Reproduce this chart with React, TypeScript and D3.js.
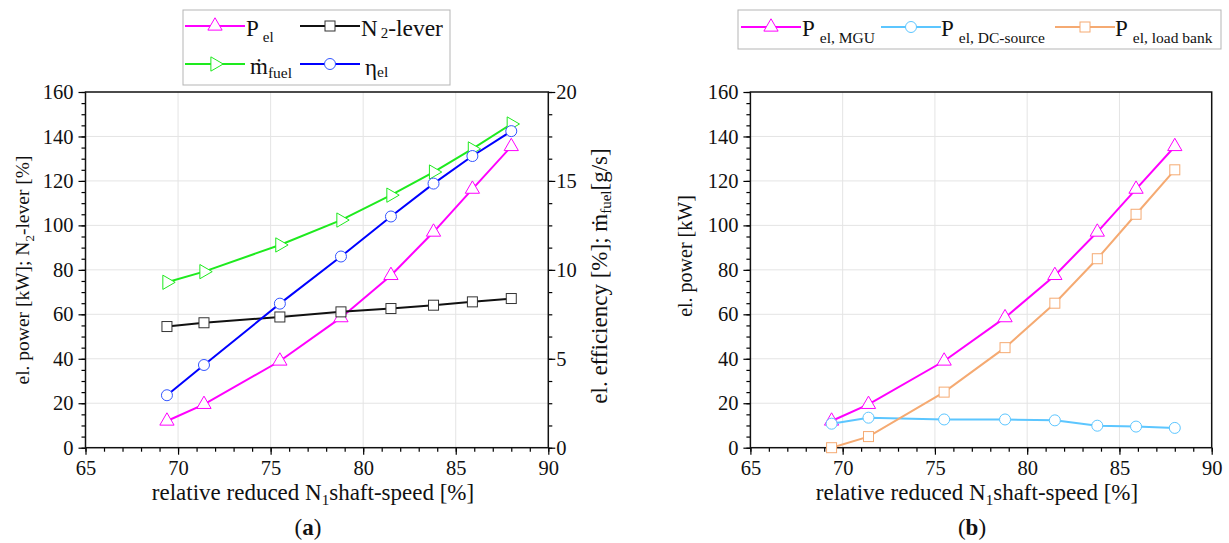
import React, { useEffect, useRef } from 'react'
import * as d3 from 'd3'

// relative reduced N1 shaft speed [%]
const speed = [69.4, 71.4, 75.5, 78.8, 81.5, 83.8, 85.9, 88.0]

// panel (a)
const powerEl = [12, 19.5, 39, 58.5, 77.5, 97, 116.3, 135.5]
const n2Lever = [54.5, 56.2, 58.8, 61.1, 62.6, 64.1, 65.6, 67.1]
const fuelFlow = [9.3, 9.9, 11.4, 12.8, 14.2, 15.5, 16.8, 18.2]
const effEl = [2.95, 4.65, 8.1, 10.75, 13.0, 14.85, 16.4, 17.8]

// panel (b)
const powerMgu = [12, 19.5, 39, 58.5, 77.5, 97, 116.3, 135.5]
const powerDc = [10.8, 13.5, 12.7, 12.7, 12.3, 9.9, 9.5, 8.9]
const powerLoad = [0, 5, 25, 45, 65, 85, 105, 125]

const xTicks = [65, 70, 75, 80, 85, 90]
const leftTicks = [0, 20, 40, 60, 80, 100, 120, 140, 160]
const rightTicks = [0, 5, 10, 15, 20]

const FONT = "'Liberation Serif', 'Times New Roman', serif"
const W = 1229
const H = 543
const yTop = 92
const yBot = 447.7

const drawFrame = (g, x, y, rightAxis) => {
  const [x0, x1] = x.range()
  // grid
  g.append('g')
    .selectAll('line')
    .data(xTicks.slice(1, -1))
    .enter()
    .append('line')
    .attr('x1', d => x(d))
    .attr('x2', d => x(d))
    .attr('y1', yTop)
    .attr('y2', yBot)
    .attr('stroke', '#e4e4e4')
    .attr('stroke-width', 1)
  g.append('g')
    .selectAll('line')
    .data(leftTicks.slice(1, -1))
    .enter()
    .append('line')
    .attr('x1', x0)
    .attr('x2', x1)
    .attr('y1', d => y(d))
    .attr('y2', d => y(d))
    .attr('stroke', '#e4e4e4')
    .attr('stroke-width', 1)

  const styleAxis = sel => {
    sel.select('.domain').remove()
    sel.selectAll('line').attr('stroke', '#000').attr('stroke-width', 1.2)
    sel.selectAll('text').attr('font-family', FONT).attr('font-size', 20.5).attr('fill', '#111')
  }

  // x axis
  const xMinor = d3.range(65, 90.01, 1)
  g.append('g')
    .attr('transform', `translate(0,${yBot})`)
    .call(d3.axisBottom(x).tickValues(xMinor).tickSize(4).tickFormat(() => ''))
    .call(styleAxis)
  g.append('g')
    .attr('transform', `translate(0,${yBot})`)
    .call(d3.axisBottom(x).tickValues(xTicks).tickSize(7).tickPadding(6).tickFormat(d3.format('d')))
    .call(styleAxis)

  // left axis
  const yMinor = d3.range(0, 160.01, 5)
  g.append('g')
    .attr('transform', `translate(${x0},0)`)
    .call(d3.axisLeft(y).tickValues(yMinor).tickSize(4).tickFormat(() => ''))
    .call(styleAxis)
  g.append('g')
    .attr('transform', `translate(${x0},0)`)
    .call(d3.axisLeft(y).tickValues(leftTicks).tickSize(7).tickPadding(5).tickFormat(d3.format('d')))
    .call(styleAxis)

  if (rightAxis) {
    g.append('g')
      .attr('transform', `translate(${x1},0)`)
      .call(d3.axisRight(rightAxis).tickValues(d3.range(0, 20.01, 1.25)).tickSize(4).tickFormat(() => ''))
      .call(styleAxis)
    g.append('g')
      .attr('transform', `translate(${x1},0)`)
      .call(d3.axisRight(rightAxis).tickValues(rightTicks).tickSize(7).tickPadding(1).tickFormat(d3.format('d')))
      .call(styleAxis)
  }

  g.append('rect')
    .attr('x', x0)
    .attr('y', yTop)
    .attr('width', x1 - x0)
    .attr('height', yBot - yTop)
    .attr('fill', 'none')
    .attr('stroke', '#111')
    .attr('stroke-width', 1.5)
}

const drawMarker = (g, kind, cx, cy, color, stroke) => {
  if (kind === 'circle') {
    g.append('circle').attr('cx', cx).attr('cy', cy).attr('r', 5.5)
      .attr('fill', '#fff').attr('stroke', stroke || color).attr('stroke-width', 1)
  } else if (kind === 'square') {
    g.append('rect').attr('x', cx - 5).attr('y', cy - 5).attr('width', 10).attr('height', 10)
      .attr('fill', '#fff').attr('stroke', stroke || color).attr('stroke-width', 1)
  } else {
    const rot = kind === 'triangleRight' ? 90 : 0
    g.append('path')
      .attr('d', d3.symbol(d3.symbolTriangle, 88)())
      .attr('transform', `translate(${cx},${cy}) rotate(${rot})`)
      .attr('fill', '#fff').attr('stroke', stroke || color).attr('stroke-width', 1)
  }
}

const drawSeries = (g, x, y, values, color, kind, stroke) => {
  const pts = speed.map((s, i) => [x(s), y(values[i])])
  g.append('path')
    .attr('d', d3.line()(pts))
    .attr('fill', 'none')
    .attr('stroke', color)
    .attr('stroke-width', 2)
  pts.forEach(p => drawMarker(g, kind, p[0], p[1], color, stroke))
}

const legendItem = (g, x, y, color, kind, stroke) => {
  g.append('line').attr('x1', x).attr('x2', x + 60).attr('y1', y).attr('y2', y)
    .attr('stroke', color).attr('stroke-width', 2)
  drawMarker(g, kind, x + 30, y, color, stroke)
}

const addText = (g, x, y, parts, opts = {}) => {
  // parts: [text, size, dx, dy, weight]
  const t = g.append('text')
    .attr('x', x)
    .attr('y', y)
    .attr('font-family', FONT)
    .attr('fill', '#111')
  if (opts.transform) t.attr('transform', opts.transform)
  if (opts.anchor) t.attr('text-anchor', opts.anchor)
  parts.forEach(p => {
    const s = t.append('tspan').attr('font-size', p[1]).text(p[0])
    if (p[2]) s.attr('dx', p[2])
    if (p[3]) s.attr('dy', p[3])
    if (p[4]) s.attr('font-weight', p[4])
  })
  return t
}

const App = () => {
  const ref = useRef(null)

  useEffect(() => {
    const svg = d3.select(ref.current)
    svg.selectAll('*').remove()
    svg.append('rect').attr('width', W).attr('height', H).attr('fill', '#fff')

    const y = d3.scaleLinear().domain([0, 160]).range([yBot, yTop])
    const yRight = d3.scaleLinear().domain([0, 20]).range([yBot, yTop])

    // -------------------------------------------------
    // panel (a)
    // -------------------------------------------------
    const xa = d3.scaleLinear().domain([65, 90]).range([85.5, 548.3])
    const ga = svg.append('g')
    drawFrame(ga, xa, y, yRight)
    drawSeries(ga, xa, y, powerEl, '#ff00ff', 'triangle')
    drawSeries(ga, xa, y, n2Lever, '#111', 'square', '#333')
    drawSeries(ga, xa, yRight, fuelFlow, '#1eea1e', 'triangleRight')
    drawSeries(ga, xa, yRight, effEl, '#0000ff', 'circle', '#3355ff')

    addText(ga, 29, 270, [['el. power [kW]; N', 19.5], ['2', 13, 0, 5], ['-lever [%]', 19.5, 0, -5]],
      { transform: 'rotate(-90,29,270)', anchor: 'middle' })
    addText(ga, 607, 276, [['el. efficiency [%]; ṁ', 23], ['fuel', 15, 0, 4], ['[g/s]', 23, 0, -4]],
      { transform: 'rotate(-90,607,276)', anchor: 'middle' })
    addText(ga, 313, 500, [['relative reduced N', 23], ['1', 15, 0, 5], ['shaft-speed [%]', 23, 0, -5]],
      { anchor: 'middle' })
    addText(ga, 308, 535, [['(', 23], ['a', 23, 0, 0, 'bold'], [')', 23]], { anchor: 'middle' })

    // legend (a)
    ga.append('rect').attr('x', 183).attr('y', 10).attr('width', 267).attr('height', 75)
      .attr('fill', '#fff').attr('stroke', '#b5b5b5').attr('stroke-width', 1)
    legendItem(ga, 185, 26, '#ff00ff', 'triangle')
    addText(ga, 246, 36, [['P', 23], ['el', 15, 4, 6]])
    legendItem(ga, 300, 26, '#111', 'square', '#333')
    addText(ga, 361, 36, [['N', 23], ['2', 15, 3, 2], ['-lever', 23.5, 0, -2]])
    legendItem(ga, 185, 64, '#1eea1e', 'triangleRight')
    addText(ga, 250, 74, [['ṁ', 23], ['fuel', 15.5, 0, 4]])
    legendItem(ga, 300, 64, '#0000ff', 'circle', '#3355ff')
    addText(ga, 365, 75, [['η', 23], ['el', 15.5, 0, 2]])

    // -------------------------------------------------
    // panel (b)
    // -------------------------------------------------
    const xb = d3.scaleLinear().domain([65, 90]).range([750.4, 1211.7])
    const gb = svg.append('g')
    drawFrame(gb, xb, y, null)
    drawSeries(gb, xb, y, powerMgu, '#ff00ff', 'triangle')
    drawSeries(gb, xb, y, powerDc, '#5cc6ff', 'circle')
    drawSeries(gb, xb, y, powerLoad, '#f5aa72', 'square')

    addText(gb, 692, 256, [['el. power [kW]', 20]], { transform: 'rotate(-90,692,256)', anchor: 'middle' })
    addText(gb, 977, 500, [['relative reduced N', 23], ['1', 15, 0, 5], ['shaft-speed [%]', 23, 0, -5]],
      { anchor: 'middle' })
    addText(gb, 972, 535, [['(', 23], ['b', 23, 0, 0, 'bold'], [')', 23]], { anchor: 'middle' })

    // legend (b)
    gb.append('rect').attr('x', 738).attr('y', 10).attr('width', 483).attr('height', 39)
      .attr('fill', '#fff').attr('stroke', '#b5b5b5').attr('stroke-width', 1)
    legendItem(gb, 741, 27, '#ff00ff', 'triangle')
    addText(gb, 802, 36, [['P', 23], ['el, MGU', 15.5, 5, 7]])
    legendItem(gb, 881, 27, '#5cc6ff', 'circle')
    addText(gb, 941, 36, [['P', 23], ['el, DC-source', 15.5, 5, 7]])
    legendItem(gb, 1055, 27, '#f5aa72', 'square')
    addText(gb, 1115, 36, [['P', 23], ['el, load bank', 15.5, 5, 7]])
  }, [])

  return (
    <svg
      ref={ref}
      width={W}
      height={H}
      style={{ position: 'absolute', left: 0, top: 0 }}
    />
  )
}

export default App
